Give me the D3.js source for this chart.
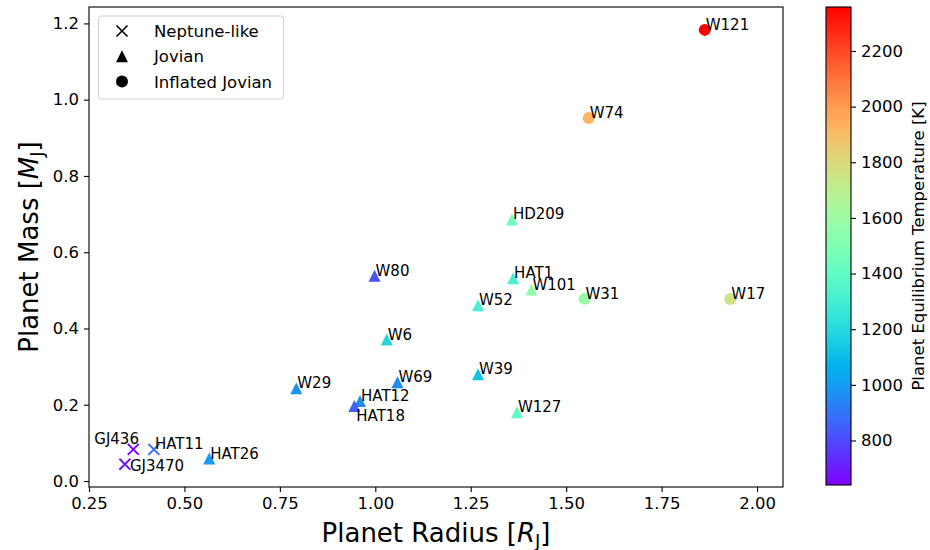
<!DOCTYPE html>
<html>
<head>
<meta charset="utf-8">
<script src="https://cdn.jsdelivr.net/npm/d3@7"></script>
<style>
body { margin: 0; background: #fff; }
text { font-family: "DejaVu Sans", sans-serif; fill: #000; }
</style>
</head>
<body>
<div id="chart"></div>
<script>
// planets
var names  = ["W121", "W74", "W17", "W31", "HD209", "HAT1", "W101", "W52", "W80", "W6",
              "W69", "W39", "W127", "HAT12", "HAT18", "W29", "HAT26", "HAT11", "GJ436", "GJ3470"];
var radius = [1.863, 1.559, 1.930, 1.548, 1.358, 1.361, 1.409, 1.269, 0.998, 1.030,
              1.058, 1.269, 1.371, 0.960, 0.945, 0.793, 0.565, 0.420, 0.366, 0.344];
var mass   = [1.183, 0.952, 0.477, 0.478, 0.686, 0.532, 0.502, 0.461, 0.538, 0.371,
              0.259, 0.280, 0.180, 0.210, 0.197, 0.243, 0.059, 0.083, 0.083, 0.044];
var teq    = [2358, 1920, 1760, 1580, 1450, 1320, 1560, 1310, 820, 1190,
              960, 1120, 1400, 960, 850, 980, 1000, 880, 640, 690];
var kind   = ["Inflated Jovian", "Inflated Jovian", "Inflated Jovian", "Inflated Jovian",
              "Jovian", "Jovian", "Jovian", "Jovian", "Jovian", "Jovian",
              "Jovian", "Jovian", "Jovian", "Jovian", "Jovian", "Jovian", "Jovian",
              "Neptune-like", "Neptune-like", "Neptune-like"];

var legendNames = ["Neptune-like", "Jovian", "Inflated Jovian"];
var xTicks = [0.25, 0.50, 0.75, 1.00, 1.25, 1.50, 1.75, 2.00];
var yTicks = [0.0, 0.2, 0.4, 0.6, 0.8, 1.0, 1.2];
var cTicks = [800, 1000, 1200, 1400, 1600, 1800, 2000, 2200];

// label nudges in px (default is right at the point)
var labelShift = { "GJ436": [-39, -5], "HAT18": [2, 15], "GJ3470": [5, 7] };

var width = 930, height = 550;
var plot = { left: 89, right: 783, top: 7, bottom: 487 };
var cbar = { left: 826, right: 851, top: 7, bottom: 485 };

var svg = d3.select("#chart").append("svg")
    .attr("width", width)
    .attr("height", height);

var x = d3.scaleLinear().domain([0.25, 2.068]).range([plot.left, plot.right]);
var y = d3.scaleLinear().domain([-0.0157, 1.243]).range([plot.bottom, plot.top]);

// matplotlib "rainbow"
function rainbow(t) {
    var r = Math.min(1, Math.abs(2 * t - 0.5));
    var g = Math.sin(Math.PI * t);
    var b = Math.cos(Math.PI * t / 2);
    return d3.rgb(r * 255, g * 255, b * 255).toString();
}
var color = d3.scaleSequential(rainbow).domain(d3.extent(teq));

var data = names.map(function(n, i) {
    return { name: n, r: radius[i], m: mass[i], t: teq[i], kind: kind[i] };
});

function markerPath(k, s) {
    var h = s / 2;
    if (k == "Jovian") return "M0," + (-h) + "L" + h + "," + h + "L" + (-h) + "," + h + "Z";
    if (k == "Inflated Jovian") return d3.symbol().type(d3.symbolCircle).size(Math.PI * h * h)();
    return "M" + (-h) + "," + (-h) + "L" + h + "," + h + "M" + (-h) + "," + h + "L" + h + "," + (-h);
}

// axes
var xAxis = svg.append("g")
    .attr("transform", "translate(0," + plot.bottom + ")")
    .call(d3.axisBottom(x).tickValues(xTicks).tickFormat(d3.format(".2f")).tickSize(5).tickPadding(5));
var yAxis = svg.append("g")
    .attr("transform", "translate(" + plot.left + ",0)")
    .call(d3.axisLeft(y).tickValues(yTicks).tickFormat(d3.format(".1f")).tickSize(5).tickPadding(5));

[xAxis, yAxis].forEach(function(a) {
    a.select(".domain").remove();
    a.selectAll("line").attr("stroke", "#000").attr("stroke-width", 1.1);
    a.selectAll("text").style("font-size", "16.5px").style("font-family", "DejaVu Sans");
});

svg.append("rect")
    .attr("x", plot.left).attr("y", plot.top)
    .attr("width", plot.right - plot.left).attr("height", plot.bottom - plot.top)
    .attr("fill", "none").attr("stroke", "#000").attr("stroke-width", 1.1);

// points
svg.append("g").selectAll("path")
    .data(data)
    .enter()
    .append("path")
    .attr("transform", function(d) { return "translate(" + x(d.r) + "," + y(d.m) + ")"; })
    .attr("d", function(d) { return markerPath(d.kind, d.kind == "Neptune-like" ? 11 : 12); })
    .attr("fill", function(d) { return d.kind == "Neptune-like" ? "none" : color(d.t); })
    .attr("stroke", function(d) { return d.kind == "Neptune-like" ? color(d.t) : "none"; })
    .attr("stroke-width", 2);

svg.append("g").selectAll("text")
    .data(data)
    .enter()
    .append("text")
    .attr("x", function(d) { return x(d.r) + (labelShift[d.name] ? labelShift[d.name][0] : 1); })
    .attr("y", function(d) { return y(d.m) + (labelShift[d.name] ? labelShift[d.name][1] : 0); })
    .style("font-size", "15px")
    .text(function(d) { return d.name; });

// legend
var lg = svg.append("g");
lg.append("rect")
    .attr("x", 98.5).attr("y", 16).attr("width", 185).attr("height", 83)
    .attr("rx", 3).attr("fill", "#fff").attr("fill-opacity", 0.8)
    .attr("stroke", "#d0d0d0").attr("stroke-width", 1);
legendNames.forEach(function(n, i) {
    var yy = 31 + i * 25.3;
    lg.append("path")
        .attr("transform", "translate(122," + yy + ")")
        .attr("d", markerPath(n, n == "Neptune-like" ? 11 : 12))
        .attr("fill", n == "Neptune-like" ? "none" : "#000")
        .attr("stroke", n == "Neptune-like" ? "#000" : "none")
        .attr("stroke-width", 1.6);
    lg.append("text")
        .attr("x", 154).attr("y", yy + 6)
        .style("font-size", "16.5px")
        .text(n);
});

// axis labels
var xl = svg.append("text")
    .attr("x", (plot.left + plot.right) / 2).attr("y", 542)
    .attr("text-anchor", "middle")
    .style("font-size", "26px");
xl.append("tspan").text("Planet Radius [");
xl.append("tspan").style("font-style", "italic").text("R");
xl.append("tspan").attr("dy", 5).style("font-size", "18px").text("J");
xl.append("tspan").attr("dy", -5).text("]");

var yl = svg.append("text")
    .attr("transform", "translate(38," + ((plot.top + plot.bottom) / 2) + ") rotate(-90)")
    .attr("text-anchor", "middle")
    .style("font-size", "26px");
yl.append("tspan").text("Planet Mass [");
yl.append("tspan").style("font-style", "italic").text("M");
yl.append("tspan").attr("dy", 5).style("font-size", "18px").text("J");
yl.append("tspan").attr("dy", -5).text("]");

// colorbar
var grad = svg.append("defs").append("linearGradient")
    .attr("id", "cgrad")
    .attr("x1", 0).attr("y1", 1).attr("x2", 0).attr("y2", 0);
d3.range(0, 1.0001, 0.05).forEach(function(t) {
    grad.append("stop").attr("offset", t).attr("stop-color", rainbow(t));
});
svg.append("rect")
    .attr("x", cbar.left).attr("y", cbar.top)
    .attr("width", cbar.right - cbar.left).attr("height", cbar.bottom - cbar.top)
    .attr("fill", "url(#cgrad)")
    .attr("stroke", "#000").attr("stroke-width", 1.1);

var cy = d3.scaleLinear().domain(color.domain()).range([cbar.bottom, cbar.top]);
var cAxis = svg.append("g")
    .attr("transform", "translate(" + cbar.right + ",0)")
    .call(d3.axisRight(cy).tickValues(cTicks).tickFormat(d3.format("d")).tickSize(5).tickPadding(5));
cAxis.select(".domain").remove();
cAxis.selectAll("line").attr("stroke", "#000").attr("stroke-width", 1.1);
cAxis.selectAll("text").style("font-size", "16.5px").style("font-family", "DejaVu Sans");

svg.append("text")
    .attr("transform", "translate(924," + ((cbar.top + cbar.bottom) / 2) + ") rotate(-90)")
    .attr("text-anchor", "middle")
    .style("font-size", "16.5px")
    .text("Planet Equilibrium Temperature [K]");
</script>
</body>
</html>
